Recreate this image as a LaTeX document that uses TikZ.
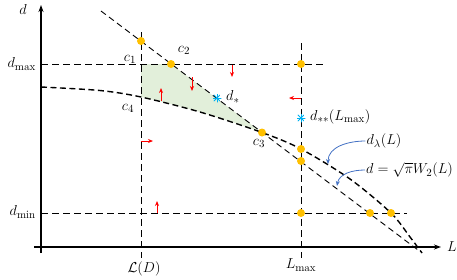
\documentclass[tikz,border=0pt]{standalone}
\usepackage{amsmath,amssymb}
\usetikzlibrary{arrows.meta, calc}
\definecolor{cgold}{HTML}{FFC000}
\definecolor{csky}{HTML}{00B0F0}
\definecolor{cblue}{HTML}{4472C4}
\definecolor{cred}{HTML}{FF0000}
\definecolor{cgreen}{HTML}{E2EFDA}
\tikzset{
  >=Latex,
  font=\fontsize{15}{18}\selectfont,
  axis/.style={line width=1.1pt, -{Stealth[length=7pt,width=5pt]}},
  guide/.style={line width=0.9pt, dash pattern=on 7pt off 4pt},
  wline/.style={line width=0.9pt, dash pattern=on 6pt off 4pt},
  bound/.style={line width=1.4pt, dash pattern=on 6pt off 3.5pt},
  dot/.style={circle, fill=cgold, inner sep=0pt, minimum size=8pt},
  skystar/.style={
    circle, inner sep=0pt, minimum size=9pt,
    path picture={
      \foreach \a in {0,45,90,135}
        \draw[csky, line width=1pt] (path picture bounding box.center) ++(\a:4.5pt) -- ++(\a+180:9pt);
    }
  },
  push/.style={draw=cred, line width=0.9pt, -{Stealth[length=5pt,width=4pt]}},
  callout/.style={draw=cblue, line width=0.8pt, -{Stealth[length=5pt,width=4pt]}},
  lab/.style={inner sep=1pt}
}

\begin{document}
\begin{tikzpicture}[x=1pt,y=-1pt]
  \useasboundingbox (0,0) rectangle (457,279);
  % shaded region between the bounds
  \begin{scope}
    \clip (141,64) -- (171,64) -- (418,250) -- (141,250) -- cycle;
    \fill[cgreen] (41,0) -- plot[smooth] coordinates {(41,87) (100,90.5) (141,97) (200,112) (262,132.5) (301,149) (350,179) (391,213) (410,237) (422,253)} -- (422,0) -- cycle;
  \end{scope}

  % axes
  \coordinate (ybot) at (41,253);
  \coordinate (ytop) at (41,5);
  \coordinate (xleft) at (34,247);
  \coordinate (xright) at (441,247);
  \draw[axis] (ybot) -- (ytop);
  \draw[axis] (xleft) -- (xright);
  \node[lab] (dlab) at (23,9) {$d$};
  \node[lab] (Llab) at (452,247) {$L$};

  % limits
  \coordinate (dmaxL) at (41,64);
  \coordinate (dmaxR) at (323,64);
  \coordinate (dminL) at (41,213);
  \coordinate (dminR) at (407,213);
  \coordinate (LDtop) at (141,32);
  \coordinate (LDbot) at (141,258);
  \coordinate (Lmtop) at (301,43);
  \coordinate (Lmbot) at (301,258);
  \draw[guide] (dmaxL) -- (dmaxR);
  \draw[guide] (dminL) -- (dminR);
  \draw[guide] (LDtop) -- (LDbot);
  \draw[guide] (Lmtop) -- (Lmbot);
  \node[lab, anchor=east] (dmaxlab) at (37,64) {$d_{\max}$};
  \node[lab, anchor=east] (dminlab) at (37,212) {$d_{\min}$};
  \node[lab] (LDlab) at (144,269) {$\mathcal{L}(D)$};
  \node[lab] (Lmlab) at (301,265) {$L_{\max}$};

  % bounds
  \coordinate (wtop) at (101,11);
  \coordinate (wend) at (418,250);
  \draw[wline] (wtop) -- (wend);
  \draw[bound] plot[smooth] coordinates {(41,87) (100,90.5) (141,97) (200,112) (262,132.5) (301,149) (350,179) (391,213) (410,237) (422,253)};

  % corner points
  \foreach \n/\x/\y in {c1/141/41, c2/171/64, c3/262/132.5, p1/301/64, p2/301/149, p3/301/161,
                        p4/301/213, p5/370/213, p6/391/213}
    \node[dot] (\n) at (\x,\y) {};
  \node[lab] (c1lab) at (130,59) {$c_1$};
  \node[lab] (c2lab) at (184,50) {$c_2$};
  \node[lab] (c3lab) at (259,143) {$c_3$};
  \node[lab] (c4lab) at (128,108) {$c_4$};

  % optima
  \node[skystar] (dstar) at (217,98) {};
  \node[skystar] (dss) at (301,118) {};
  \node[lab, anchor=west] (dstarlab) at (225,97) {$d_{*}$};
  \node[lab, anchor=west] (dsslab) at (309,117) {$d_{**}(L_{\max})$};

  % feasible directions
  \foreach \n/\x/\y/\dx/\dy in {1/161/101/0/-13, 2/192/77/0/14, 3/232/65/0/12,
                                4/301/98/-12/0, 5/141/141/12/0, 6/157/213/0/-12} {
    \coordinate (q\n) at (\x,\y);
    \draw[push] (q\n) -- ++(\dx,\dy);
  }

  % callouts
  \node[lab] (lamlab) at (384,141) {$d_{\lambda}(L)$};
  \node[lab, anchor=west] (w2lab) at (365,170) {$d=\sqrt{\pi}W_2(L)$};
  \coordinate (lamhit) at (328,164);
  \coordinate (w2hit) at (337,186);
  \draw[callout] (lamlab.west) to[out=180,in=90] (lamhit);
  \draw[callout] (w2lab.west) to[out=180,in=80] (w2hit);
\end{tikzpicture}
\end{document}
